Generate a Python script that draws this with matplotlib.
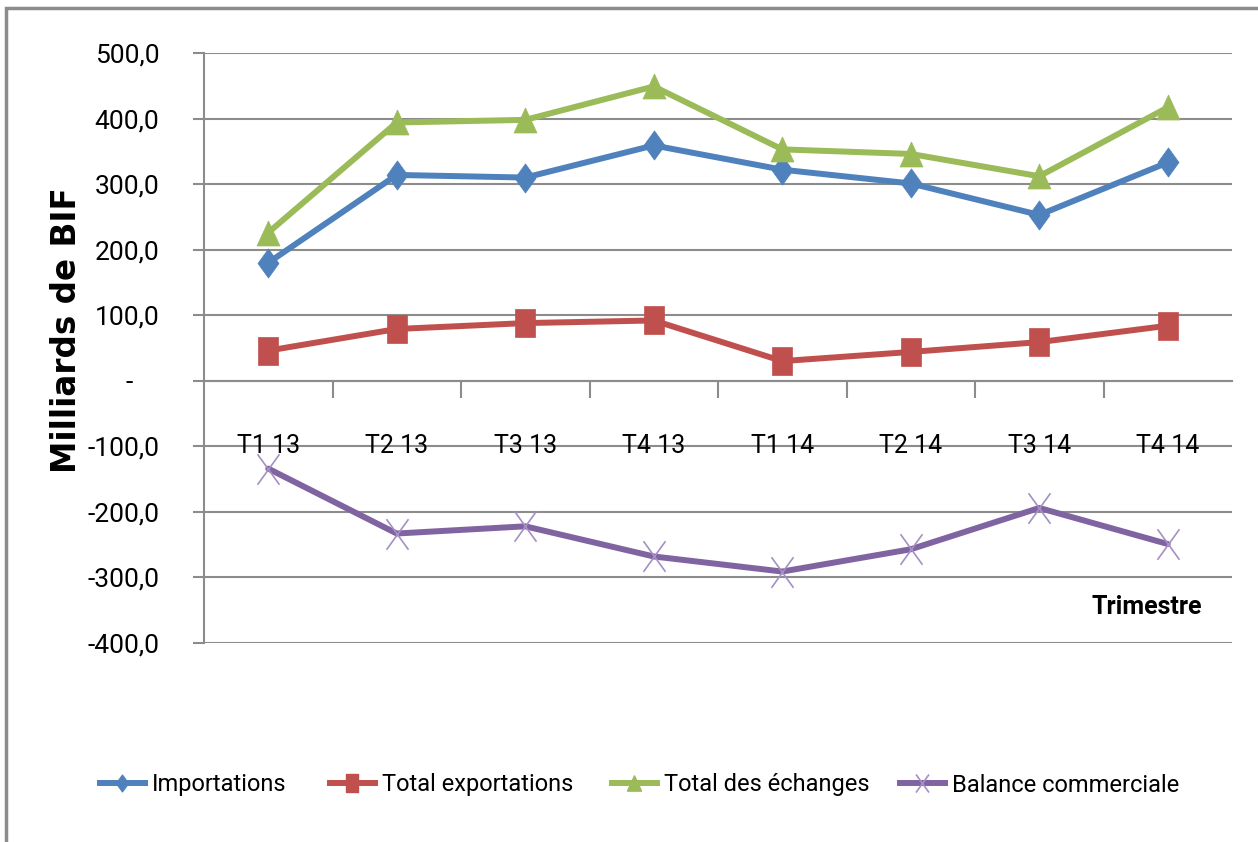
import matplotlib
matplotlib.use("Agg")
import matplotlib.pyplot as plt
from matplotlib.lines import Line2D
from matplotlib.patches import Rectangle
from matplotlib.path import Path
from matplotlib.ticker import FixedLocator, FuncFormatter

categories = ["T1 13", "T2 13", "T3 13", "T4 13", "T1 14", "T2 14", "T3 14", "T4 14"]
importations = [180, 314, 310, 359, 322, 301, 253, 333]
exportations = [46, 79, 88, 92, 30, 44, 59, 84]
total_echanges = [226, 394, 398, 449, 353, 346, 312, 417]
balance = [-134, -233, -222, -268, -291, -257, -194, -249]
series_names = ["Importations", "Total exportations", "Total des échanges", "Balance commerciale"]
yticks = [500, 400, 300, 200, 100, 0, -100, -200, -300, -400]

W, H = 1258, 842
fig = plt.figure(figsize=(W / 100, H / 100), dpi=100)

narrow = "Roboto"
bold_lab = "DejaVu Sans"

fig.patches.append(Rectangle((6 / W, -0.05), 1.1, 1 - 8 / H + 0.05, transform=fig.transFigure,
                             fill=False, edgecolor="#8c8c8c", linewidth=2.5))

diamond = Path([(0, 0.5), (0.36, 0), (0, -0.5), (-0.36, 0), (0, 0.5)],
               [Path.MOVETO, Path.LINETO, Path.LINETO, Path.LINETO, Path.CLOSEPOLY])
square = Path([(-0.35, -0.5), (0.35, -0.5), (0.35, 0.5), (-0.35, 0.5), (-0.35, -0.5)],
              [Path.MOVETO, Path.LINETO, Path.LINETO, Path.LINETO, Path.CLOSEPOLY])
triangle = Path([(-0.46, -0.5), (0.46, -0.5), (0, 0.5), (-0.46, -0.5)],
                [Path.MOVETO, Path.LINETO, Path.LINETO, Path.CLOSEPOLY])
cross = Path([(-0.36, -0.5), (0.36, 0.5), (-0.36, 0.5), (0.36, -0.5)],
             [Path.MOVETO, Path.LINETO, Path.MOVETO, Path.LINETO])

ax = fig.add_axes([204 / W, 1 - 643 / H, (1232 - 204) / W, (643 - 53) / H])
x = list(range(len(categories)))
styles = [
    (importations, "#4F81BD", diamond, 21, 12),
    (exportations, "#C0504D", square, 20, 13),
    (total_echanges, "#9BBB59", triangle, 18, 11),
    (balance, "#8064A2", cross, 22, 13),
]
for (vals, col, mk, ms, lms) in styles:
    if mk is cross:
        ax.plot(x, vals, color=col, linewidth=4.3, marker=mk, markersize=ms,
                markeredgecolor="#a58fc4", markerfacecolor="none", markeredgewidth=1.2,
                solid_capstyle="round", zorder=3)
    else:
        ax.plot(x, vals, color=col, linewidth=4.3, marker=mk, markersize=ms,
                markeredgecolor=col, markerfacecolor=col, markeredgewidth=0.5, zorder=3)

ax.set_xlim(-0.5, len(categories) - 0.5)
ax.set_ylim(-400, 500)
ax.yaxis.set_major_locator(FixedLocator(yticks))

def fmt(v, pos):
    if abs(v) < 1e-9:
        return "-    "
    return f"{v:.1f}".replace(".", ",")
ax.yaxis.set_major_formatter(FuncFormatter(fmt))
ax.grid(axis="y", color="#8c8c8c", linewidth=1.5)
ax.set_axisbelow(True)
for s in ["top", "right"]:
    ax.spines[s].set_visible(False)
ax.spines["left"].set_color("#8c8c8c")
ax.spines["left"].set_linewidth(1.5)
ax.spines["bottom"].set_position(("data", 0))
ax.spines["bottom"].set_color("#8c8c8c")
ax.spines["bottom"].set_linewidth(1.5)
ax.set_xticks([i + 0.5 for i in range(len(categories) - 1)])
ax.set_xticklabels([])
ax.tick_params(axis="x", direction="out", length=12, width=1.5, color="#8c8c8c")
ax.tick_params(axis="y", direction="out", length=8, width=1.5, color="#8c8c8c", pad=24,
               labelsize=19)
for lab in ax.get_yticklabels():
    lab.set_fontfamily(narrow)

for i, c in enumerate(categories):
    ax.text(i, -100, c, ha="center", va="center", fontsize=18, family=narrow, zorder=4)

fig.text(1202 / W, 1 - 607 / H, "Trimestre", ha="right", va="center", fontsize=18,
         family=narrow, fontweight="bold")
fig.text(67 / W, 1 - 330 / H, "Milliards de BIF", ha="center", va="center", rotation=90,
         fontsize=23.5, family=bold_lab, fontweight="bold")

starts = [100, 330, 612, 900]
for (vals, col, mk, ms, lms), name, sx in zip(styles, series_names, starts):
    if mk is cross:
        h = Line2D([], [], color=col, linewidth=4.3, marker=mk, markersize=lms,
                   markeredgecolor="#a58fc4", markerfacecolor="none", markeredgewidth=1.2)
    else:
        h = Line2D([], [], color=col, linewidth=4.3, marker=mk, markersize=lms,
                   markeredgecolor=col, markerfacecolor=col)
    leg = fig.legend([h], [name], loc="center left", bbox_to_anchor=(sx / W, 1 - 785 / H),
                     frameon=False, prop={"family": narrow, "size": 17}, handlelength=1.9,
                     handletextpad=0.3, borderpad=0, borderaxespad=0)

fig.savefig("out.png", dpi=100)
